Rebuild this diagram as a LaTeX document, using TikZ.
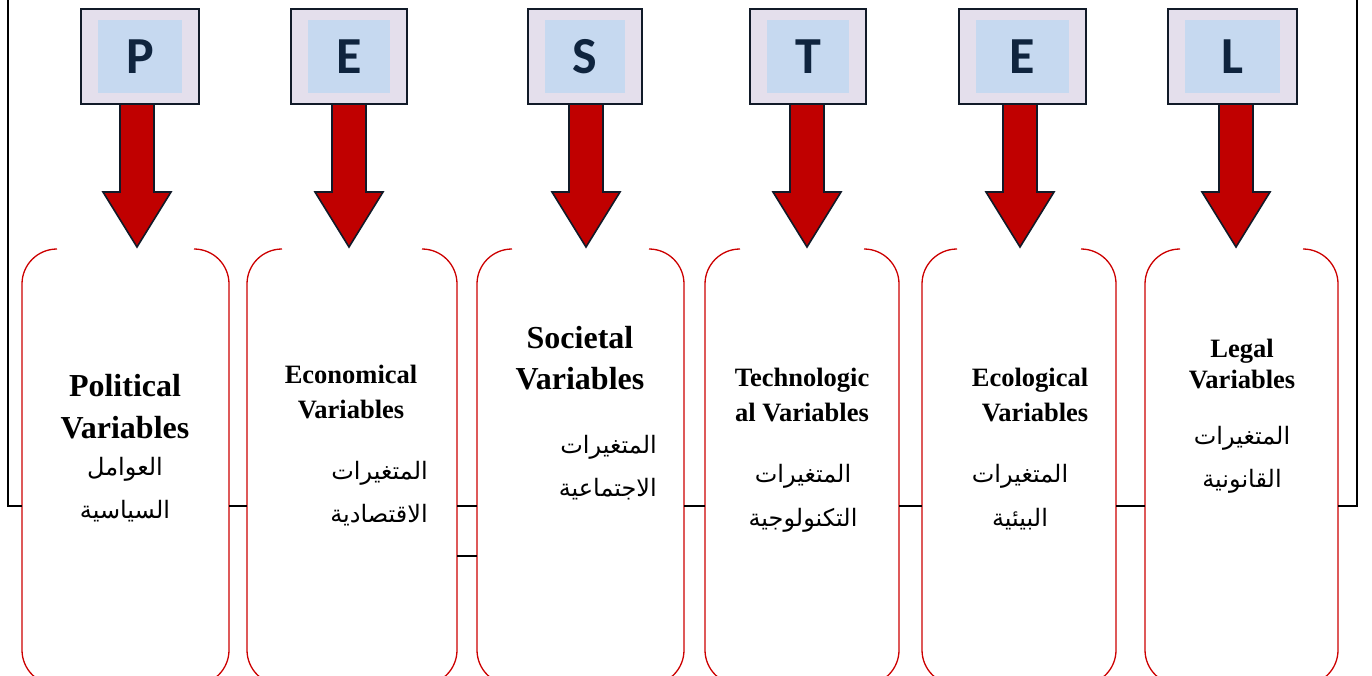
\documentclass[tikz,border=0pt]{standalone}
\usepackage{fontspec}
\setmainfont{Liberation Serif}
\newfontfamily\arabicfont[Script=Arabic]{DejaVu Sans}
\newfontfamily\letterfont{Carlito}
\TeXXeTstate=1
\usetikzlibrary{calc}
\definecolor{lav}{HTML}{E4DFEC}
\definecolor{paleblue}{HTML}{C6D9F0}
\definecolor{boxline}{HTML}{111A28}
\definecolor{navy}{HTML}{0F243E}
\definecolor{arrowred}{HTML}{C00000}
\definecolor{bracketred}{HTML}{CC0000}
\tikzset{
  outerbox/.style={draw=boxline, line width=2pt, fill=lav, minimum height=95pt, inner sep=0pt, outer sep=0pt},
  innerbox/.style={fill=paleblue, minimum height=73pt, inner sep=0pt, outer sep=0pt, text=navy, font=\letterfont\bfseries\fontsize{52}{52}\selectfont},
  bigarrow/.style={draw=boxline, line width=1.6pt, fill=arrowred, line join=miter},
  varbox/.style={inner sep=0pt, outer sep=0pt, minimum height=436pt},
  bracket/.style={draw=bracketred, line width=1.3pt, rounded corners=35pt},
  blackline/.style={draw=black, line width=2pt},
  enbig/.style={inner sep=0pt, anchor=base, font=\fontsize{32}{38}\selectfont\bfseries},
  ensmall/.style={inner sep=0pt, anchor=base, font=\fontsize{26.5}{32}\selectfont\bfseries},
  artxt/.style={inner sep=0pt, anchor=base, font=\arabicfont\fontsize{24}{28}\selectfont}
}
\newcommand\pestbox[6]{%
  \coordinate (#1a) at (#6,104);
  \draw[bigarrow] ([xshift=-17pt]#1a) -- ++(0,88) -- ++(-17,0) -- ++(34,55) -- ++(34,-55) -- ++(-17,0) -- ++(0,-88) -- cycle;
  \node[outerbox, minimum width=#3pt] (#1) at (#2,56.5) {};
  \node[innerbox, minimum width=#4pt] (#1i) at (#2,56.5) {#5};
}
\newcommand\varframe[3]{%
  \node[varbox, minimum width=#3pt] (#1) at (#2,467) {};
  \draw[bracket] ([xshift=35pt]#1.north west) -- (#1.north west) -- (#1.south west) -- ([xshift=35pt]#1.south west);
  \draw[bracket] ([xshift=-35pt]#1.north east) -- (#1.north east) -- (#1.south east) -- ([xshift=-35pt]#1.south east);
}
\begin{document}
\begin{tikzpicture}[x=1pt,y=-1pt]
\useasboundingbox (0,0) rectangle (1372,675);
% letter boxes and arrows
\pestbox{lP}{140}{118}{84}{P}{137}
\pestbox{lE}{349}{116}{82}{E}{349}
\pestbox{lS}{585}{114}{80}{S}{586}
\pestbox{lT}{808}{116}{82}{T}{807}
\pestbox{lEe}{1022.5}{127}{93}{E}{1020}
\pestbox{lL}{1232.5}{129}{95}{L}{1236}
% variable frames
\varframe{b1}{125.5}{207}
\varframe{b2}{352}{210}
\varframe{b3}{580.5}{207}
\varframe{b4}{802}{194}
\varframe{b5}{1019}{194}
\varframe{b6}{1241.5}{193}
% black connectors
\coordinate (ftl) at (8,0);
\coordinate (ftr) at (1357,0);
\coordinate (ly) at (0,506);
\coordinate (ly2) at (0,556);
\draw[blackline] (ftl) -- (ftl |- ly) -- (b1.west |- ly);
\draw[blackline] (b1.east |- ly) -- (b2.west |- ly);
\draw[blackline] (b2.east |- ly) -- (b3.west |- ly);
\draw[blackline] (b2.east |- ly2) -- (b3.west |- ly2);
\draw[blackline] (b3.east |- ly) -- (b4.west |- ly);
\draw[blackline] (b4.east |- ly) -- (b5.west |- ly);
\draw[blackline] (b5.east |- ly) -- (b6.west |- ly);
\draw[blackline] (b6.east |- ly) -- (ftr |- ly) -- (ftr);
% texts
\node[enbig] (t1a) at (125,396) {Political};
\node[enbig] (t1b) at (125,438) {Variables};
\node[artxt] (a1a) at (125,475) {\beginR العوامل\endR};
\node[artxt] (a1b) at (125,518) {\beginR السياسية\endR};

\node[ensmall] (t2a) at (351,383) {Economical};
\node[ensmall] (t2b) at (351,418) {Variables};
\node[artxt, anchor=base east] (a2a) at (428,479) {\beginR المتغيرات\endR};
\node[artxt, anchor=base east] (a2b) at (428,522) {\beginR الاقتصادية\endR};

\node[enbig] (t3a) at (580,348) {Societal};
\node[enbig] (t3b) at (580,389) {Variables};
\node[artxt, anchor=base east] (a3a) at (657,453) {\beginR المتغيرات\endR};
\node[artxt, anchor=base east] (a3b) at (657,496) {\beginR الاجتماعية\endR};

\node[ensmall] (t4a) at (802,386) {Technologic};
\node[ensmall] (t4b) at (802,421) {al Variables};
\node[artxt] (a4a) at (803,482) {\beginR المتغيرات\endR};
\node[artxt] (a4b) at (803,526) {\beginR التكنولوجية\endR};

\node[ensmall] (t5a) at (1030,386) {Ecological};
\node[ensmall] (t5b) at (1035,421) {Variables};
\node[artxt] (a5a) at (1020,482) {\beginR المتغيرات\endR};
\node[artxt] (a5b) at (1020,526) {\beginR البيئية\endR};

\node[ensmall] (t6a) at (1242,357) {Legal};
\node[ensmall] (t6b) at (1242,388) {Variables};
\node[artxt] (a6a) at (1242,444) {\beginR المتغيرات\endR};
\node[artxt] (a6b) at (1242,487) {\beginR القانونية\endR};
\end{tikzpicture}
\end{document}
